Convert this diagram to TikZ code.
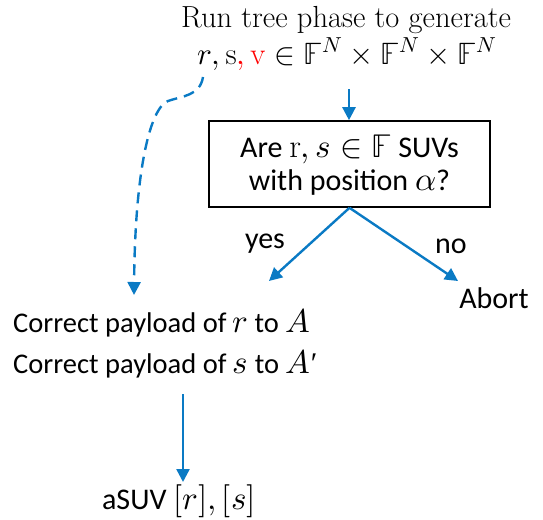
\documentclass[tikz,border=0pt]{standalone}
\usepackage{fontspec}
\usepackage{unicode-math}
\setmathfont{Latin Modern Math}
\setsansfont{Carlito}
\newfontfamily\primefont{Liberation Serif}
\usetikzlibrary{arrows.meta}
\definecolor{flowblue}{RGB}{10,122,196}
\newcommand{\bigmth}[1]{{\fontsize{33}{40}\selectfont$#1$}}
\newcommand{\primemark}{{\primefont\fontsize{30}{36}\selectfont ′}}
\tikzset{
  serif/.style={font=\fontsize{30.5}{36}\selectfont, anchor=base, inner sep=0pt},
  sans/.style={font=\sffamily\fontsize{30}{36}\selectfont, anchor=base, inner sep=0pt},
  sansp/.style={font=\sffamily\fontsize{28.5}{34}\selectfont, anchor=base west, inner sep=0pt},
  flow/.style={draw=flowblue, line width=2.4pt, -{Triangle[width=13pt,length=13pt]}},
  dflow/.style={flow, dash pattern=on 11pt off 7pt},
  qbox/.style={draw=black, line width=1.6pt, minimum width=281pt, minimum height=86pt, inner sep=0pt}
}
\begin{document}
\begin{tikzpicture}[x=1pt,y=-1pt]
\useasboundingbox (0,0) rectangle (543,519);
\node[serif] (t1) at (346,28) {Run tree phase to generate};
\node[serif, font=\fontsize{31}{38}\selectfont] (t2) at (347,64) {$r,\mathrm{s}{\color{red},\mathrm{v}}\in\mathbb{F}^N\times\mathbb{F}^N\times\mathbb{F}^N$};
\node[qbox] (q) at (349.5,164) {};
\node[sans] (q1) at (349.5,157) {Are \bigmth{\mathrm{r},s\in\mathbb{F}} SUVs};
\node[sans] (q2) at (349.5,190) {with position \bigmth{\alpha}?};
\coordinate (ta) at (349,89);
\draw[flow] (ta) -- (q.north -| ta);
\coordinate (yt) at (269,281);
\coordinate (nt) at (458,281);
\draw[flow] (q.south) -- (yt);
\draw[flow] (q.south) -- (nt);
\node[sans] (yes) at (265,248) {yes};
\node[sans] (no) at (451,253) {no};
\node[sans] (ab) at (494,308) {Abort};
\node[sansp] (c1) at (13,332) {Correct payload of \bigmth{r} to \bigmth{A}};
\node[sansp] (c2) at (13,373) {Correct payload of \bigmth{s} to \bigmth{A}\kern0.5pt\primemark};
\coordinate (ds) at (203,77);
\coordinate (de) at (134,295);
\draw[dflow] (ds) .. controls (200,96) and (182,96) .. (168,101) .. controls (150,108) and (135,170) .. (de);
\coordinate (bs) at (183,394);
\coordinate (be) at (183,482);
\draw[flow] (bs) -- (be);
\node[sans] (out) at (179,509) {aSUV \bigmth{[r],[s]}};
\end{tikzpicture}
\end{document}
